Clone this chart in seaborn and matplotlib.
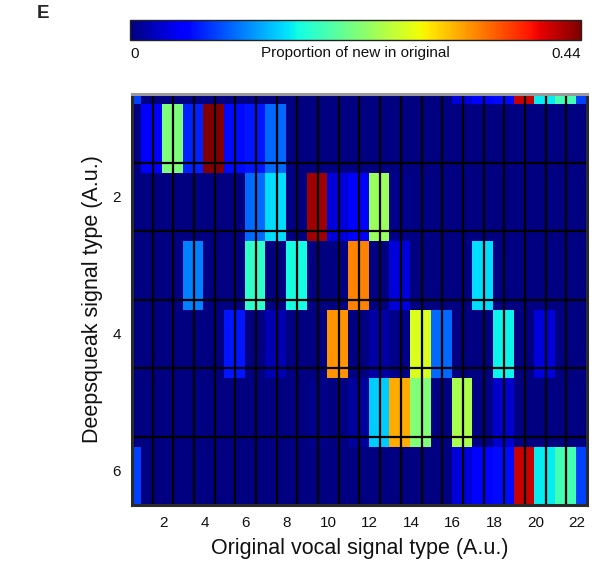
import numpy as np
import matplotlib
matplotlib.use("Agg")
import matplotlib.pyplot as plt
import seaborn as sns

# Original vocal signal types (columns) and Deepsqueak signal types (rows)
original_types = list(range(1, 23))
deepsqueak_types = list(range(1, 7))

# Proportion of each new (Deepsqueak) type found in each original type
type1 = [0.05, 0.22, 0.07, 0.44, 0.06, 0.065, 0.10, 0, 0, 0, 0, 0, 0, 0, 0, 0, 0, 0, 0, 0, 0, 0]
type2 = [0, 0, 0, 0, 0, 0.10, 0.15, 0, 0.427, 0.035, 0.05, 0.236, 0.005, 0.003, 0, 0, 0, 0, 0, 0, 0, 0]
type3 = [0, 0, 0.11, 0, 0, 0.18, 0, 0.165, 0, 0, 0.34, 0, 0.035, 0, 0, 0, 0.15, 0.003, 0, 0, 0, 0]
type4 = [0, 0, 0, 0, 0.065, 0, 0.02, 0, 0, 0.33, 0, 0.015, 0.005, 0.27, 0.10, 0, 0, 0.16, 0, 0.035, 0, 0]
type5 = [0, 0, 0, 0, 0, 0, 0, 0, 0.005, 0, 0.012, 0.143, 0.32, 0.222, 0, 0.245, 0.003, 0.03, 0, 0, 0, 0]
type6 = [0, 0, 0, 0, 0, 0, 0, 0, 0, 0, 0, 0, 0, 0, 0, 0.035, 0.055, 0.06, 0.411, 0.157, 0.19, 0.083]

x_tick_labels = [str(t) for t in original_types if t % 2 == 0]
y_tick_labels = [str(t) for t in deepsqueak_types if t % 2 == 0]

proportion = np.array([type1, type2, type3, type4, type5, type6])

sns.set_theme(style="white")
plt.rcParams["font.family"] = ["Liberation Sans", "DejaVu Sans"]

# Each cell is split into SUB x SUB pixels; the image is displaced by a
# fraction of a cell (with wrap-around) relative to the cell grid.
SUB = 20
fine = np.repeat(np.repeat(proportion, SUB, axis=0), SUB, axis=1)
fine = np.roll(fine, (3, 9), axis=(0, 1))

W, H = 592, 565
fig = plt.figure(figsize=(W / 100, H / 100), dpi=100)
ax = fig.add_axes([132 / W, (H - 505) / H, 455 / W, 411 / H])
cax = fig.add_axes([130 / W, (H - 40) / H, 451 / W, 20 / H])

sns.heatmap(fine, cmap="jet", vmin=0, vmax=0.44, ax=ax, cbar_ax=cax,
            cbar_kws={"orientation": "horizontal"},
            xticklabels=False, yticklabels=False)

n_rows, n_cols = proportion.shape
for j in range(1, n_cols):
    ax.axvline(j * SUB, color="black", lw=1.6)
for i in range(1, n_rows):
    ax.axhline(i * SUB, color="black", lw=1.6)

xt = [(t - 0.5) * SUB for t in original_types if t % 2 == 0]
yt = [(t - 0.5) * SUB for t in deepsqueak_types if t % 2 == 0]
ax.set_xticks(xt)
ax.set_xticklabels(x_tick_labels, fontsize=11, color="#111")
ax.set_yticks(yt)
ax.set_yticklabels(y_tick_labels, fontsize=11, color="#111", rotation=0)
ax.tick_params(bottom=True, left=True, direction="in", length=5, width=1.8,
               color="#333", pad=8)

for name, spine in ax.spines.items():
    spine.set_visible(True)
    spine.set_linewidth(2.2)
    spine.set_color("#2a2a2a")
ax.spines["top"].set_color("#9a9a9a")

ax.set_xlabel("Original vocal signal type (A.u.)", fontsize=15.5, color="#111", labelpad=6)
ax.set_ylabel("Deepsqueak signal type (A.u.)", fontsize=15.5, color="#111", labelpad=7)

cbar = ax.collections[0].colorbar
cbar.set_ticks([0, 0.44])
cbar.set_ticklabels(["0", "0.44"])
cbar.ax.tick_params(length=0, labelsize=11, pad=5, labelcolor="#111")
labels = cbar.ax.get_xticklabels()
labels[0].set_ha("left")
labels[1].set_ha("right")
cbar.outline.set_edgecolor("#222")
cbar.outline.set_linewidth(1)
cbar.ax.text(0.5, -0.3, "Proportion of new in original", transform=cbar.ax.transAxes,
             ha="center", va="top", fontsize=11, color="#111")

fig.text(37 / W, 1 - 5 / H, "E", fontsize=13.5, fontweight="bold", va="top", ha="left")

fig.savefig("out.png", dpi=100)
